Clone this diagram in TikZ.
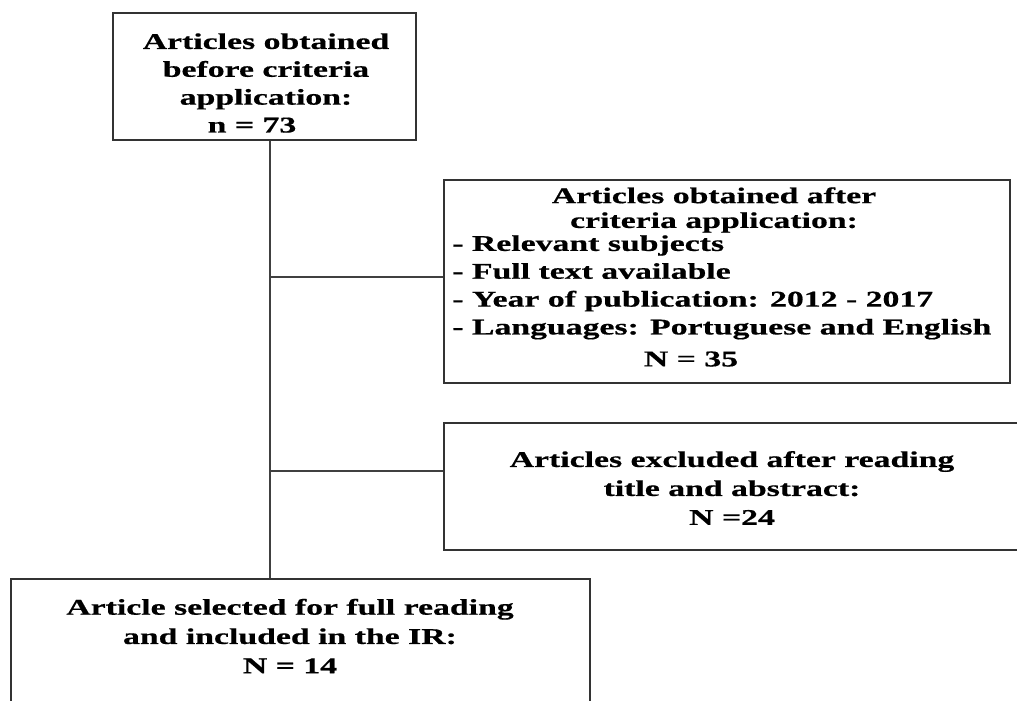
\documentclass[tikz,border=0pt]{standalone}
\usepackage{fontspec}
\setmainfont{Liberation Serif}[FakeStretch=1.5, FakeBold=0.6]

\tikzset{
  box/.style={draw=black!80, line width=1pt, inner sep=0pt},
  txt/.style={font=\fontsize{16}{19.8}\selectfont\bfseries, inner sep=0pt, align=center},
  link/.style={draw=black!75, line width=1pt}
}

\begin{document}
\begin{tikzpicture}[x=0.025cm, y=-0.025cm]
  %frame
  \useasboundingbox (0,0) rectangle (1017,700);
  \clip (0,0) rectangle (1017,700);
  \fill[white] (0,0) rectangle (1017,700);

  %boxes
  \node[box, minimum width=7.575cm, minimum height=3.175cm] (before) at (264.5,76.5) {};
  \node[box, minimum width=14.15cm, minimum height=5.075cm] (after) at (727,281.5) {};
  \node[box, minimum width=14.65cm, minimum height=3.175cm] (excluded) at (737,486.5) {};
  \node[box, minimum width=14.475cm, minimum height=3.775cm] (selected) at (300.5,654.5) {};

  %texts
  \node[txt] (beforetxt) at (266,83) {Articles obtained\\before criteria\\application:\\n = 73\hspace*{0.7cm}};
  \node[txt, font=\fontsize{16}{17.6}\selectfont\bfseries] (aftertxt) at (714,210) {Articles obtained after\\criteria application:};
  \node[txt, align=left, anchor=north west] (criteria) at (452,235) {- Relevant subjects\\- Full text available\\- Year of publication: 2012 - 2017\\- Languages: Portuguese and English};
  \node[txt] (aftern) at (691,359) {N = 35};
  \node[txt, font=\fontsize{16}{20.6}\selectfont\bfseries] (excludedtxt) at (732,488) {Articles excluded after reading\\title and abstract:\\N =24};
  \node[txt, font=\fontsize{16}{20.8}\selectfont\bfseries] (selectedtxt) at (290,636) {Article selected for full reading\\and included in the IR:\\N = 14};

  %lines
  \coordinate (spine) at (270,0);
  \coordinate (j1) at (270,277);
  \coordinate (j2) at (270,471);
  \draw[link] (before.south -| spine) -- (selected.north -| spine);
  \draw[link] (j1) -- (j1 -| after.west);
  \draw[link] (j2) -- (j2 -| excluded.west);
\end{tikzpicture}
\end{document}
